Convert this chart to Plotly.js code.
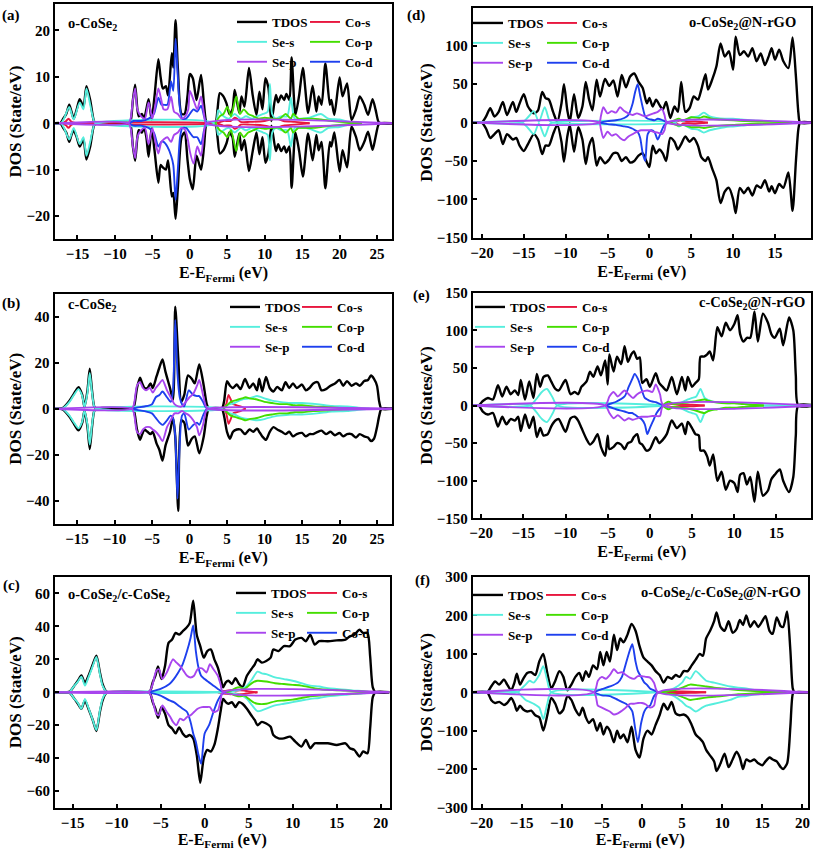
<!DOCTYPE html>
<html><head><meta charset="utf-8">
<script src="https://cdn.plot.ly/plotly-3.0.1.min.js"></script>
<style>html,body{margin:0;padding:0;background:#fff}</style>
</head><body><div id="chart" style="width:813px;height:850px"></div>
<script>
// ---------------- Panel (a) o-CoSe2 ----------------
const aE = [-18, -17.3, -16.9, -16.5, -16.1, -15.8, -15.5, -15.1, -14.7, -14.2,
  -13.8, -13.3, -12.8, -12.5, -8.2, -7.9, -7.6, -7.3, -7.0, -6.8,
  -6.4, -6.1, -5.8, -5.5, -5.1, -4.7, -4.2, -3.9, -3.6, -3.2,
  -2.9, -2.4, -2.2, -1.9, -1.6, -1.1, -0.7, -0.3, 0.0, 0.4,
  0.9, 1.5, 1.9, 2.2, 2.5, 3.4, 3.7, 4.0, 4.4, 4.9,
  5.3, 5.7, 6.0, 6.6, 6.9, 7.3, 7.9, 8.4, 8.9, 9.3,
  9.7, 10.1, 10.5, 10.9, 11.5, 11.8, 12.2, 12.6, 12.9, 13.3,
  13.6, 14.1, 14.6, 15.1, 15.8, 16.4, 16.9, 17.2, 17.6, 18.1,
  18.7, 18.9, 19.3, 20.0, 20.4, 21.0, 21.6, 22.2, 22.7, 23.3,
  23.8, 24.4, 24.8, 25.2, 25.5, 27];
const aTup = [0, 0, 1, 2, 4, 2.5, 1, 3, 5.2, 3.6,
  8, 5, 0.5, 0, 0, 0.5, 5, 8.3, 3, 1.5,
  2, 1, 3, 5.2, 0.8, 6, 13.8, 10, 7.5, 8,
  6, 15.1, 12, 22.2, 12, 2, 2, 6, 10.6, 9.7,
  5, 10.4, 4, 0.3, 0, 0, 3, 6.5, 6, 4.3,
  2, 3, 7.2, 2.2, 5.8, 3.6, 11.9, 6, 1.8, 6.8,
  3, 9.7, 7.6, 0.5, 6.1, 4.5, 6, 5, 6.3, 5,
  14.2, 1.8, 6, 11.9, 2.2, 8.1, 2.5, 5.8, 4, 12.9,
  4, 5, 1.8, 9.9, 5.8, 8.6, 0.7, 3, 5.8, 4,
  1.8, 5.2, 3, 0.3, 0, 0];
const aTdn = [0, 0, -1, -2, -4, -2.5, -1.5, -3, -5, -3.5,
  -7.8, -5, -0.5, 0, 0, -0.5, -5, -8.1, -3, -1.5,
  -2, -1, -3, -7.2, -1, -6, -12.8, -9, -9.5, -10,
  -8, -15.8, -15, -20.6, -14, -3, -2, -8, -12, -14.2,
  -7, -10, -5, -0.3, 0, 0, -3, -6.5, -6, -4.3,
  -2, -3, -7.2, -2.2, -5.8, -3.6, -10.3, -6, -2, -6.7,
  -3, -8.5, -6.5, -0.5, -6, -4.5, -6, -5, -6.3, -5,
  -13.9, -2, -6, -11.5, -2.2, -8, -2.5, -5.8, -4, -14,
  -4, -5, -2, -10.4, -5.8, -9.5, -0.7, -3, -5.8, -4,
  -1.8, -5.7, -3, -0.3, 0, 0];
const aSsE = [-18, -17.2, -16.8, -16.1, -15.5, -14.7, -14.2, -13.8, -13.3, -12.8, -12.5, 3.4, 3.8, 4.5, 5.2, 6.0, 6.8, 7.5, 8.3, 9.0, 9.8, 10.4, 10.7, 11.0, 11.5, 12.2, 13.0, 13.5, 14.0, 15.0, 16.0, 17.5, 18.5, 20.0, 21.0, 22.0];
const aSsUp = [0, 0, 1, 3.5, 0.8, 4.5, 3, 7.5, 4, 0.5, 0, 0, 2.8, 1.5, 1, 2, 1, 1.5, 1, 1.5, 2, 2.5, 8.5, 2, 1, 1.5, 1.5, 5.5, 1, 1, 1.2, 2, 1, 0.8, 0.4, 0];
const aSsDn = [0, 0, -1, -3.5, -1, -4.5, -3, -7, -4, -0.5, 0, 0, -2.5, -1.5, -1, -2, -1, -1.5, -1, -1.5, -2, -2.5, -8, -2, -1, -1.5, -1.5, -5, -1, -1, -1.2, -2, -1, -0.8, -0.4, 0];
const aSpE = [-18, -8.2, -7.9, -7.6, -7.3, -7.0, -6.5, -6.0, -5.5, -5.0, -4.6, -4.2, -3.8, -3.5, -3.0, -2.5, -2.1, -1.6, -1.1, -0.6, -0.2, 0.0, 0.5, 1.0, 1.5, 1.9, 2.2, 27];
const aSpUp = [0, 0, 1, 5, 7.5, 3, 1.5, 1, 4.5, 1, 4, 7.5, 5, 3, 3, 5.7, 2.5, 2, 1, 1.5, 3, 7, 5, 3, 5.8, 2, 0, 0];
const aSpDn = [0, 0, -1, -5, -7.5, -3, -1.5, -1, -4.5, -1, -4, -6.5, -4, -3.5, -3, -4, -2.5, -2, -1, -1.5, -4, -6, -8.7, -5, -7, -2, 0, 0];
const aCdE = [-8.2, -7.5, -6.5, -5.5, -4.8, -4.2, -3.8, -3.5, -3.0, -2.5, -2.2, -1.9, -1.6, -1.3, -1.0, -0.5, 0.0, 0.5, 1.0, 1.5, 1.9, 2.2];
const aCdUp = [0, 0.5, 0.5, 1, 2, 5.5, 4, 4, 4, 9, 7, 18.2, 10, 3, 1, 1, 2, 3, 2.5, 3.8, 1.5, 0];
const aCdDn = [0, -0.5, -0.5, -1, -2, -5, -4, -4, -5, -7, -9, -16.5, -10, -3, -1, -1, -2, -3, -3, -4.5, -1.5, 0];
const aCpE = [3.4, 4.0, 4.5, 5.0, 5.5, 6.2, 6.7, 7.2, 7.8, 8.5, 9.2, 10, 11, 12, 12.8, 13.5, 13.8, 14.5, 15.5, 16.5, 17.5, 19, 21, 23];
const aCpUp = [0, 1.5, 2, 3.5, 1.5, 5.8, 2, 3, 2, 1.5, 1, 1.2, 1, 1, 2, 1, 2, 1, 1, 1, 0.8, 0.5, 0.2, 0];
const aCpDn = [0, -1.5, -2, -3, -1.5, -6, -2, -3, -2, -1.5, -1, -1.2, -1, -1, -2, -1, -2, -1, -1, -1, -0.8, -0.5, -0.2, 0];
const aCsE = [-17, -16.5, -16.2, -15.8, -15, 3.5, 4.5, 5.5, 6.0, 6.3, 6.8, 8, 10, 11.5, 12.5, 14, 16];
const aCsUp = [0, 0.5, 1, 0.3, 0, 0, 0.5, 0.5, 1.2, 1.0, 0.3, 0.3, 0.5, 1, 0.5, 0.3, 0];
const aCsDn = [0, -0.5, -1, -0.3, 0, 0, -0.5, -0.5, -1.2, -1, -0.3, -0.3, -0.5, -1, -0.5, -0.3, 0];

// ---------------- Panel (b) c-CoSe2 ----------------
const bE = [-18, -17.2, -16.9, -16.5, -16.0, -15.5, -14.8, -14.3, -14.0, -13.6,
  -13.3, -13.0, -12.7, -12.4, -7.7, -7.4, -7.0, -6.6, -6.3, -6.0,
  -5.6, -5.2, -4.9, -4.4, -4.0, -3.6, -3.2, -2.6, -2.2, -1.9,
  -1.5, -1.1, -0.7, -0.2, 0.3, 0.7, 1.3, 1.9, 2.3, 2.6,
  4.3, 4.6, 5.0, 5.4, 5.8, 6.3, 6.8, 7.4, 8.0, 8.5,
  9.0, 9.3, 9.7, 10.2, 10.7, 11.2, 11.7, 12.3, 12.8, 13.3,
  13.8, 14.3, 15.0, 15.5, 16.0, 16.5, 17.1, 17.6, 18.2, 18.8,
  19.4, 20.0, 20.5, 21.0, 21.6, 22.2, 22.7, 23.3, 23.8, 24.2,
  24.6, 25.0, 25.3, 25.6, 27];
const bTup = [0, 0, 0.3, 1.5, 3.5, 6, 9.4, 6, 0.7, 8,
  17.4, 8, 1, 0, 0, 1, 9, 13.5, 11, 9,
  9, 11, 9, 14, 18, 21.4, 16, 9, 4, 44.3,
  22, 3, 6, 14.5, 13, 11, 19.2, 10, 2, 0,
  0, 3, 12, 10, 9, 10.5, 8.5, 12.9, 9, 11,
  8, 13, 7.5, 13.8, 9, 7.5, 9.5, 8, 11.5, 9,
  11, 9, 10.5, 8, 9, 11, 11.5, 8, 8.5, 10,
  11, 12.5, 10, 12, 10, 11, 10, 12, 12.5, 14.4,
  13, 10, 3, 0, 0];
const bTdn = [0, 0, -0.3, -1.5, -3.5, -6, -9.4, -6, -0.7, -8,
  -17.5, -8, -1, 0, 0, -1, -9, -13.5, -11, -9,
  -10, -11, -10, -15, -18, -22.5, -16, -10, -4, -12,
  -44.3, -5, -6, -16, -13, -12, -19.3, -12, -3, 0,
  0, -3, -10, -13, -10, -9, -9, -11, -9, -10,
  -8.5, -10, -12, -13.5, -10, -8, -9, -10, -11, -10,
  -12, -11, -10.5, -12, -11, -11, -10, -9.5, -11, -10,
  -11.5, -10.5, -12, -11, -11, -12.5, -11, -12, -12.5, -14,
  -13, -8, -3, 0, 0];
const bSsE = [-18, -16.9, -16.5, -16.0, -15.5, -14.8, -14.3, -14.0, -13.6, -13.3, -13.0, -12.7, -12.4, 4.5, 5.0, 6.0, 7.0, 8.0, 9.0, 10.0, 11.0, 12.0, 13.5, 15.0, 17.0, 19.0, 21.0, 22.5, 24.0];
const bSsUp = [0, 0.2, 1.2, 3, 5.5, 8.5, 5.5, 0.7, 7, 15.5, 7, 1, 0, 0, 1.5, 2.5, 4, 4.5, 5.5, 4.5, 3.5, 3, 2.5, 2.5, 2, 1.2, 1, 0.5, 0];
const bSsDn = [0, -0.2, -1.2, -3, -5.5, -8.5, -5.5, -0.7, -7, -15.5, -7, -1, 0, 0, -1.5, -2.5, -4, -4.5, -5, -4.5, -3.5, -3, -2.5, -2.5, -2, -1.2, -1, -0.5, 0];
const bSpE = [-18, -7.7, -7.4, -7.0, -6.6, -6.2, -5.8, -5.3, -4.9, -4.5, -4.0, -3.6, -3.0, -2.5, -2.0, -1.5, -1.0, -0.5, 0.0, 0.5, 1.0, 1.3, 1.8, 2.2, 2.5, 27];
const bSpUp = [0, 0, 2, 10, 11.5, 9, 8, 9, 7, 9, 11, 12.5, 8, 5, 2, 1, 1, 3, 5, 6.5, 10, 12.5, 6, 1, 0, 0];
const bSpDn = [0, 0, -2, -10, -11, -9, -8, -8, -9, -10, -12, -14, -8, -5, -2, -2, -1, -2, -3, -5, -8, -11.5, -7, -1, 0, 0];
const bCdE = [-7.7, -7.0, -6.0, -5.0, -4.5, -4.0, -3.6, -3.0, -2.5, -2.2, -1.9, -1.6, -1.3, -1.0, -0.7, -0.1, 0.5, 1.0, 1.3, 1.8, 2.2, 2.5];
const bCdUp = [0, 0.5, 1, 2, 5, 6, 7.5, 5, 3, 8, 38.5, 15, 5, 2, 1, 8, 6, 5.5, 5.5, 3, 0.5, 0];
const bCdDn = [0, -0.5, -1, -2, -4, -6, -7, -5, -3, -4, -12, -39, -15, -3, -2, -9, -7, -6, -7, -3, -0.5, 0];
const bCpE = [4.5, 5.0, 5.5, 6.0, 6.5, 7.0, 7.5, 8.0, 9.0, 10.0, 11.0, 12.0, 13.0, 14.0, 15.0, 16.5, 18.0, 20.0, 22.0];
const bCpUp = [0, 1.5, 3, 3.5, 4, 4.5, 5, 4.5, 4, 3, 2.5, 2, 2, 1.5, 1.5, 1, 0.8, 0.4, 0];
const bCpDn = [0, -1.5, -3, -3.5, -4, -4.5, -5, -4.5, -4, -3, -2.5, -2, -2, -1.5, -1.5, -1, -0.8, -0.4, 0];
const bCsE = [4.5, 4.9, 5.2, 5.5, 5.8, 6.3, 6.8, 7.5];
const bCsUp = [0, 2, 6, 4, 2, 1.5, 1, 0];
const bCsDn = [0, -2, -6.5, -4.5, -2, -1.5, -1, 0];

// ---------------- Panel (c) o-CoSe2/c-CoSe2 ----------------
const cE = [-17, -15.6, -15.3, -14.8, -14.4, -14.0, -13.6, -13.2, -12.7, -12.3,
  -11.9, -11.6, -11.2, -11.0, -6.5, -6.2, -5.9, -5.6, -5.3, -4.9,
  -4.5, -4.1, -3.7, -3.3, -2.9, -2.5, -2.1, -1.7, -1.3, -0.9,
  -0.5, -0.1, 0.3, 0.7, 1.1, 1.5, 1.8, 2.1, 2.4, 2.7,
  3.1, 3.5, 3.9, 4.3, 4.8, 5.3, 5.7, 6.0, 6.5, 7.0,
  7.5, 7.8, 8.4, 9.0, 9.7, 10.3, 11.0, 11.5, 12.0, 12.5,
  13.0, 14.0, 15.0, 16.0, 16.5, 17.0, 17.6, 18.0, 18.5, 18.8,
  19.1, 19.4, 21];
const cTup = [0, 0, 0.5, 4, 7, 10.2, 5.6, 10, 17, 22.2,
  12, 5, 0.5, 0, 0, 0.5, 6, 10, 15.6, 8,
  16, 30, 32, 36, 35, 37, 39, 42, 55.6, 35,
  28, 21, 25, 26, 20, 15, 9, 3, 6, 7,
  5, 8.5, 5, 3, 10, 14, 17, 20, 18, 19,
  21, 26, 25, 28, 28, 32, 33, 31, 35, 29,
  31, 31, 31.5, 32, 34, 35, 38, 36, 36, 22,
  3, 0, 0];
const cTdn = [0, 0, -0.5, -4, -7, -10, -5, -10, -17, -23.5,
  -12, -5, -0.5, 0, 0, -0.5, -6, -10, -15.5, -9,
  -13, -20, -22, -25, -21.4, -25, -27, -26, -28, -38,
  -55, -40, -35, -36, -32, -22, -12, -4, -6, -7,
  -6, -9, -6, -7, -10, -14, -17, -20, -18, -19,
  -21, -26, -28, -28, -27, -30, -33, -29, -34, -31,
  -31, -31, -32, -31, -34, -35, -39, -36, -37, -22,
  -3, 0, 0];
const cSsE = [-17, -15.6, -15.3, -14.8, -14.4, -14.0, -13.6, -13.2, -12.7, -12.3, -11.9, -11.6, -11.2, -11.0, 2.0, 3.0, 4.0, 4.8, 5.4, 6.0, 6.5, 7.0, 8.0, 9.0, 10.0, 11.0, 12.0, 13.0, 14.0, 15.0, 16.0, 17.0, 18.0, 19.0];
const cSsUp = [0, 0, 0.5, 4, 6.5, 9.5, 4, 9, 16, 21.5, 11, 4, 0.5, 0, 0, 0.5, 1.5, 4, 8, 12.5, 11.5, 11, 9, 8, 7, 5.5, 4, 3.5, 2.5, 2, 1.5, 1, 0.7, 0];
const cSsDn = [0, 0, -0.5, -4, -6.5, -10, -4, -9.5, -17, -23, -11, -4, -0.5, 0, 0, -0.5, -1.5, -4, -8, -11.5, -11, -10, -8, -7, -6, -5, -4, -3.5, -2.5, -2, -1.5, -1, -0.7, 0];
const cSpE = [-17, -6.5, -6.2, -5.9, -5.5, -5.2, -4.8, -4.3, -3.9, -3.6, -3.2, -2.8, -2.4, -2.0, -1.6, -1.2, -0.8, -0.3, 0.2, 0.6, 1.0, 1.5, 1.8, 2.1, 21];
const cSpUp = [0, 0, 1, 5, 13, 14, 8, 12, 17, 20, 18, 16, 13, 10, 9, 10, 14, 14.5, 12, 17, 14, 10, 5, 0, 0];
const cSpDn = [0, 0, -1, -5, -13, -14, -8, -12, -15, -18, -20, -16, -17, -15, -14, -12, -10, -9, -9, -9, -12, -11, -5, 0, 0];
const cCdE = [-6.5, -6.0, -5.0, -4.0, -3.5, -3.0, -2.5, -2.0, -1.6, -1.3, -1.0, -0.7, -0.4, 0.0, 0.5, 1.0, 1.5, 2.0, 2.4];
const cCdUp = [0, 0.5, 2, 5, 8, 12, 17, 25, 33, 40.5, 25, 15, 10, 8, 6, 4, 2, 0.5, 0];
const cCdDn = [0, -0.5, -2, -5, -6, -8, -10, -12, -18, -25, -30, -38, -43.5, -25, -20, -12, -5, -1, 0];
const cCpE = [2.0, 3.0, 3.5, 4.0, 4.5, 5.0, 5.5, 6.0, 7.0, 8.0, 9.0, 10.0, 11.0, 12.0, 13.0, 14.0, 16.0, 18.0, 19.2];
const cCpUp = [0, 1, 2.5, 3, 2, 4, 6, 7, 6.5, 5.5, 5, 4.5, 4, 3, 2, 1.5, 1, 0.5, 0];
const cCpDn = [0, -1, -2, -2.5, -2, -4, -6, -7, -7, -5.5, -5, -4.5, -3.5, -2.5, -2, -1.5, -1, -0.5, 0];
const cCsE = [1.5, 2.5, 3.0, 3.5, 4.0, 4.5, 5.0, 6.0];
const cCsUp = [0, 1, 1.2, 0.8, 1.2, 1, 0.5, 0];
const cCsDn = [0, -1, -1.2, -0.8, -1.2, -1, -0.5, 0];

// ---------------- Panel (d) o-CoSe2@N-rGO ----------------
const dE = [-21.1, -20.3, -20.0, -19.5, -19.0, -18.5, -18.0, -17.5, -17.0, -16.3,
  -15.9, -15.5, -15.0, -14.5, -13.8, -13.3, -12.8, -12.4, -12.0, -11.5,
  -11.0, -10.5, -10.2, -9.8, -9.5, -9.0, -8.5, -8.0, -7.6, -7.2,
  -6.8, -6.3, -5.9, -5.3, -4.8, -4.3, -3.8, -3.3, -2.8, -2.3,
  -1.8, -1.3, -0.8, -0.3, 0.0, 0.4, 0.8, 1.2, 1.6, 2.0,
  2.5, 3.0, 3.4, 3.8, 4.3, 4.8, 5.3, 5.8, 6.2, 6.7,
  7.0, 7.5, 8.0, 8.5, 9.0, 9.5, 10.0, 10.3, 10.8, 11.3,
  11.8, 12.3, 12.8, 13.3, 13.8, 14.3, 14.6, 15.0, 15.5, 16.0,
  16.6, 17.1, 17.5, 17.8, 18.0, 19.5];
const dTup = [0, 0, 0, 8, 18.7, 8, 14, 27, 10, 27,
  14, 25, 37, 21, 12, 16, 40, 32, 30, 14,
  1, 25, 50, 16, 1, 37, 6, 21, 53, 30,
  16, 56, 34, 57, 48, 55, 34, 62, 46, 60,
  64, 53, 45, 25, 32, 21, 30, 23, 17, 27,
  6, 21, 14, 53, 14, 19, 34, 30, 43, 63,
  43, 56, 73, 103, 86, 93, 69, 112, 88, 93,
  86, 97, 80, 90, 75, 88, 97, 82, 95, 80,
  71, 111, 60, 12, 0, 0];
const dTdn = [0, 0, 0, -8, -20, -15, -10, -28, -15, -22,
  -20, -30, -37, -28, -15, -22, -41, -30, -30, -15,
  -3, -25, -51, -18, -3, -38, -6, -22, -54, -30,
  -20, -56, -45, -53, -48, -40, -40, -50, -45, -52,
  -50, -43, -40, -52, -58, -30, -40, -35, -40, -50,
  -20, -25, -35, -28, -18, -25, -20, -30, -45, -50,
  -45, -60, -75, -105, -90, -85, -100, -118, -85, -92,
  -85, -95, -82, -85, -75, -90, -83, -92, -80, -85,
  -65, -115, -50, -8, 0, 0];
const dSsE = [-21.1, -15.2, -14.5, -13.8, -13.2, -12.5, -11.9, -11.5, 3.0, 3.5, 4.0, 5.0, 5.8, 6.5, 7.2, 8.0, 9.0, 10.0, 11.0, 12.0, 13.0, 14.0, 15.0, 16.0, 17.0, 17.8];
const dSsUp = [0, 0, 7, 15, 1, 20, 2, 0, 0, 4, 2, 7, 8, 13, 8, 6, 5, 5, 4, 3, 2.5, 2, 1.5, 1, 0.5, 0];
const dSsDn = [0, 0, -7, -15, -1, -18, -2, 0, 0, -5, -3, -8, -9, -13, -10, -8, -6, -5, -4, -3, -2.5, -2, -1.5, -1, -0.5, 0];
const dSpE = [-21.1, -6.0, -5.8, -5.5, -5.0, -4.5, -4.0, -3.5, -3.0, -2.5, -2.0, -1.5, -1.0, -0.5, 0.0, 0.5, 1.0, 1.5, 1.8, 2.1, 19.5];
const dSpUp = [0, 0, 8, 20, 12, 15, 13, 20, 15, 12, 10, 12, 10, 8, 10, 12, 14, 18, 10, 0, 0];
const dSpDn = [0, 0, -8, -20, -12, -17, -15, -20, -23, -18, -15, -12, -10, -10, -10, -12, -13, -15, -10, 0, 0];
const dCdE = [-6.0, -5.0, -4.0, -3.0, -2.5, -2.0, -1.7, -1.4, -1.1, -0.8, -0.5, -0.2, 0.2, 0.6, 1.0, 1.4, 1.8, 2.2];
const dCdUp = [0, 2, 3, 6, 10, 25, 40, 50, 35, 20, 8, 5, 4, 3, 5, 4, 2, 0];
const dCdDn = [0, -2, -3, -5, -6, -8, -10, -12, -20, -40, -50, -15, -10, -12, -22, -12, -3, 0];
const dCpE = [2.5, 3.5, 4.0, 5.0, 6.0, 6.5, 7.5, 8.5, 10.0, 11.5, 13, 15, 17];
const dCpUp = [0, 5, 3, 7, 6, 8, 5, 4, 3, 2, 1.5, 1, 0];
const dCpDn = [0, -4, -3, -6, -6, -7, -5, -4, -3, -2, -1.5, -1, 0];
const dCsE = [3.0, 3.7, 4.0, 4.5, 5.5, 6.5, 7.0];
const dCsUp = [0, 3, 1.5, 1, 1.5, 0.5, 0];
const dCsDn = [0, -3, -1.5, -1, -1.5, -0.5, 0];

// ---------------- Panel (e) c-CoSe2@N-rGO ----------------
const eE = [-21.1, -20.3, -19.8, -19.2, -18.6, -18.0, -17.5, -17.0, -16.5, -16.0,
  -15.6, -15.3, -14.8, -14.3, -13.8, -13.4, -13.0, -12.6, -12.1, -11.7,
  -11.2, -10.8, -10.0, -9.4, -8.9, -8.5, -8.1, -7.5, -7.1, -6.7,
  -6.2, -5.8, -5.3, -5.0, -4.8, -4.3, -3.9, -3.4, -3.0, -2.6,
  -2.2, -1.9, -1.5, -1.2, -0.9, -0.4, 0.0, 0.7, 1.1, 1.5,
  2.0, 2.6, 3.2, 3.8, 4.2, 4.5, 5.0, 5.4, 5.8, 6.0,
  6.4, 6.8, 7.1, 7.5, 8.0, 8.5, 9.0, 9.5, 10.0, 10.4,
  10.7, 11.1, 11.5, 11.9, 12.4, 12.8, 13.4, 14.0, 14.4, 14.8,
  15.4, 15.8, 16.5, 17.0, 17.3, 17.6, 19.5];
const eTup = [0, 0, 6, 10, 8, 27, 12, 25, 15, 20,
  14, 34, 8, 32, 10, 42, 25, 38, 40, 32,
  22, 20, 34, 15, 18, 15, 25, 32, 45, 38,
  52, 40, 60, 28, 68, 45, 65, 55, 79, 58,
  68, 72, 62, 64, 30, 35, 25, 43, 30, 25,
  20, 38, 15, 38, 20, 38, 25, 30, 35, 65,
  65, 68, 72, 60, 104, 92, 110, 100, 108, 120,
  95, 85, 90, 90, 125, 85, 122, 110, 95, 90,
  102, 80, 117, 100, 40, 0, 0];
const eTdn = [0, 0, -8, -12, -10, -28, -15, -25, -18, -20,
  -15, -34, -12, -30, -15, -42, -30, -40, -38, -28,
  -20, -18, -35, -17, -15, -20, -30, -45, -52, -48,
  -38, -55, -67, -40, -58, -55, -50, -52, -58, -50,
  -48, -42, -38, -50, -52, -60, -58, -42, -50, -46,
  -38, -20, -30, -24, -38, -22, -30, -38, -40, -60,
  -60, -68, -80, -65, -100, -88, -112, -100, -103, -115,
  -92, -90, -105, -95, -128, -88, -120, -113, -98, -92,
  -85, -100, -115, -95, -40, 0, 0];
const eSsE = [-21.1, -14.2, -13.5, -12.8, -12.2, -11.5, -11.0, 1.5, 2.5, 3.5, 4.5, 5.0, 5.5, 6.0, 6.5, 7.0, 7.5, 8.5, 9.5, 10.0, 10.5, 11.5, 12.5, 14.0, 19.5];
const eSsUp = [0, 0, 8, 18, 22, 10, 0, 0, 3, 3, 8, 10, 12, 22, 10, 7, 5, 4, 3, 4, 3, 2, 1, 0, 0];
const eSsDn = [0, 0, -8, -18, -22, -10, 0, 0, -3, -3, -8, -10, -12, -22, -10, -7, -5, -4, -3, -4, -3, -2, -1, 0, 0];
const eSpE = [-21.1, -5.3, -4.8, -4.3, -3.8, -3.0, -2.5, -2.0, -1.5, -1.0, -0.3, 0.3, 0.7, 1.2, 1.6, 19.5];
const eSpUp = [0, 0, 12, 18, 12, 20, 15, 10, 15, 18, 20, 18, 28, 15, 0, 0];
const eSpDn = [0, 0, -10, -17, -13, -20, -17, -19, -17, -15, -15, -14, -14, -14, 0, 0];
const eCdE = [-5.3, -4.5, -4.0, -3.0, -2.5, -2.1, -1.8, -1.4, -1.0, -0.6, -0.3, 0.0, 0.4, 0.8, 1.2, 1.6];
const eCdUp = [0, 3, 5, 12, 25, 35, 42, 35, 22, 10, 8, 6, 5, 4, 2, 0];
const eCdDn = [0, -3, -5, -8, -10, -10, -12, -15, -18, -25, -38, -30, -20, -10, -4, 0];
const eCpE = [1.5, 2.2, 2.8, 3.5, 4.5, 5.5, 6.5, 7.0, 8.0, 9.0, 10.0, 11.0, 12.0, 13.5];
const eCpUp = [0, 5, 2, 3, 4, 6, 8, 6, 4, 3, 3, 2, 1, 0];
const eCpDn = [0, -5, -2, -3, -4, -7, -10, -7, -5, -3, -3, -2, -1, 0];
const eCsE = [1.5, 2.5, 3.5, 5.0, 6.5];
const eCsUp = [0, 2, 1, 1, 0];
const eCsDn = [0, -2, -1, -1, 0];

// ---------------- Panel (f) o-CoSe2/c-CoSe2@N-rGO ----------------
const fE = [-21.1, -19.3, -18.8, -18.3, -17.8, -17.2, -16.8, -16.3, -15.9, -15.6,
  -15.2, -14.8, -14.3, -13.8, -13.3, -12.8, -12.3, -11.8, -11.3, -10.8,
  -10.3, -9.8, -9.3, -8.8, -8.3, -7.8, -7.4, -7.0, -6.6, -6.1,
  -5.6, -5.2, -4.8, -4.4, -4.0, -3.5, -3.1, -2.7, -2.3, -1.8,
  -1.3, -0.8, -0.3, 0.2, 0.7, 1.2, 1.7, 2.2, 2.7, 3.2,
  3.7, 4.2, 4.7, 5.2, 5.7, 6.2, 6.7, 7.2, 7.6, 8.0,
  8.5, 9.0, 9.3, 9.8, 10.3, 10.8, 11.3, 11.8, 12.2, 12.6,
  13.0, 13.5, 14.0, 14.5, 15.0, 15.4, 15.9, 16.3, 16.8, 17.3,
  17.6, 18.1, 18.5, 18.8, 19.0, 20.7];
const fTup = [0, 0, 15, 28, 20, 33, 20, 5, 25, 48,
  20, 35, 50, 52, 45, 80, 100, 50, 10, 30,
  55, 40, 5, 20, 40, 50, 30, 55, 40, 70,
  60, 105, 70, 105, 80, 150, 110, 140, 130, 150,
  178, 160, 120, 90, 80, 70, 55, 45, 25, 40,
  35, 45, 40, 55, 55, 70, 85, 100, 95, 140,
  160, 185, 208, 170, 160, 185, 155, 165, 188, 175,
  200, 170, 185, 170, 185, 198, 160, 152, 195, 172,
  170, 210, 110, 10, 0, 0];
const fTdn = [0, 0, -20, -28, -25, -33, -28, -15, -30, -48,
  -35, -45, -50, -48, -60, -65, -100, -60, -15, -30,
  -55, -45, -10, -20, -45, -60, -40, -65, -80, -70,
  -100, -80, -110, -90, -100, -130, -100, -120, -110, -130,
  -90, -150, -170, -120, -100, -110, -85, -60, -30, -45,
  -25, -55, -60, -58, -65, -85, -110, -120, -130, -150,
  -165, -180, -205, -185, -160, -195, -175, -155, -170, -200,
  -175, -180, -175, -185, -190, -180, -170, -175, -180, -195,
  -200, -185, -90, -5, 0, 0];
const fSsE = [-21.1, -15.5, -15.0, -14.5, -14.0, -13.5, -12.8, -12.3, -11.8, -11.3, 2.0, 3.0, 4.0, 5.0, 5.5, 6.0, 6.7, 7.5, 8.0, 9.0, 10.0, 11.0, 12.0, 13.0, 14.0, 16.0, 18.0, 19.0];
const fSsUp = [0, 0, 10, 20, 30, 25, 45, 68, 30, 0, 0, 3, 10, 25, 40, 35, 55, 40, 30, 25, 20, 15, 12, 10, 6, 3, 1, 0];
const fSsDn = [0, 0, -10, -20, -25, -30, -40, -70, -30, 0, 0, -3, -10, -25, -35, -40, -50, -40, -35, -30, -25, -20, -12, -10, -6, -3, -1, 0];
const fSpE = [-21.1, -6.0, -5.5, -5.0, -4.5, -4.0, -3.5, -3.0, -2.5, -2.0, -1.5, -1.0, -0.5, 0.0, 0.5, 1.0, 1.5, 2.0, 20.7];
const fSpUp = [0, 0, 30, 40, 35, 45, 60, 50, 52, 45, 38, 35, 42, 42, 40, 38, 25, 0, 0];
const fSpDn = [0, 0, -35, -40, -45, -50, -58, -55, -48, -40, -30, -30, -28, -28, -32, -40, -35, 0, 0];
const fCdE = [-6.0, -5.0, -4.0, -3.0, -2.5, -2.0, -1.5, -1.2, -0.8, -0.5, -0.1, 0.3, 0.6, 1.0, 1.5, 2.0];
const fCdUp = [0, 8, 15, 25, 40, 75, 110, 125, 80, 55, 40, 25, 20, 10, 5, 0];
const fCdDn = [0, -8, -10, -20, -25, -30, -40, -50, -100, -130, -80, -50, -40, -35, -10, 0];
const fCpE = [2.0, 3.0, 4.0, 5.0, 6.0, 7.0, 8.0, 9.0, 10.0, 12.0, 14.0, 16.0, 18.0];
const fCpUp = [0, 3, 5, 12, 20, 18, 15, 12, 10, 6, 3, 1, 0];
const fCpDn = [0, -3, -5, -12, -20, -17, -14, -12, -10, -5, -3, -1, 0];
const fCsE = [2, 3, 4, 6, 8];
const fCsUp = [0, 2, 2, 1.5, 0];
const fCsDn = [0, -2, -2, -1.5, 0];

// ---------------- labels ----------------
const seriesNames = ['TDOS', 'Co-s', 'Se-s', 'Co-p', 'Co-d', 'Se-p'];
const xTitle = 'E-E<sub>Fermi</sub> (eV)';
const panelLetters = ['(a)', '(b)', '(c)', '(d)', '(e)', '(f)'];
const panelNames = ['o-CoSe<sub>2</sub>', 'c-CoSe<sub>2</sub>', 'o-CoSe<sub>2</sub>/c-CoSe<sub>2</sub>',
  'o-CoSe<sub>2</sub>@N-rGO', 'c-CoSe<sub>2</sub>@N-rGO', 'o-CoSe<sub>2</sub>/c-CoSe<sub>2</sub>@N-rGO'];
const yTitles = ['DOS (State/eV)', 'DOS (State/eV)', 'DOS (State/eV)', 'DOS (States/eV)', 'DOS (States/eV)', 'DOS (States/eV)'];

// ---------------- styling / layout ----------------
const W = 813, H = 850;
const FONT = '"Liberation Serif", "Times New Roman", serif';
const px = v => v / W, py = v => 1 - v / H;
const COL = {'TDOS': '#000000', 'Co-s': '#e8173f', 'Se-s': '#55eedd', 'Co-p': '#44dd00', 'Se-p': '#a845ee', 'Co-d': '#1e40ee'};
const LW = {'TDOS': 2.4, 'Co-s': 1.9, 'Se-s': 1.9, 'Co-p': 1.9, 'Se-p': 1.9, 'Co-d': 1.9};
const LEGA = ['TDOS', 'Se-s', 'Se-p'];

const panels = [
  {dom: [55, 392, 4, 239.3], xr: [-18, 27], yr: [-25, 25.7], dy: 10, lab: [11, 15], tp: [66, 24, 'left'], legA: [232, 7], legB: [305, 7],
   S: {'TDOS': [aE, aTup, aTdn], 'Co-s': [aCsE, aCsUp, aCsDn], 'Se-s': [aSsE, aSsUp, aSsDn], 'Co-p': [aCpE, aCpUp, aCpDn], 'Co-d': [aCdE, aCdUp, aCdDn], 'Se-p': [aSpE, aSpUp, aSpDn]}},
  {dom: [54.5, 392, 293.5, 524], xr: [-18, 27], yr: [-50, 50], dy: 20, lab: [11, 303], tp: [66, 305, 'left'], legA: [225, 292], legB: [297, 292],
   S: {'TDOS': [bE, bTup, bTdn], 'Co-s': [bCsE, bCsUp, bCsDn], 'Se-s': [bSsE, bSsUp, bSsDn], 'Co-p': [bCpE, bCpUp, bCpDn], 'Co-d': [bCdE, bCdUp, bCdDn], 'Se-p': [bSpE, bSpUp, bSpDn]}},
  {dom: [55, 389.5, 577, 807.5], xr: [-17, 21], yr: [-70, 70], dy: 20, lab: [11, 585], tp: [66, 595, 'left'], legA: [231, 578], legB: [302, 578],
   S: {'TDOS': [cE, cTup, cTdn], 'Co-s': [cCsE, cCsUp, cCsDn], 'Se-s': [cSsE, cSsUp, cSsDn], 'Co-p': [cCpE, cCpUp, cCpDn], 'Co-d': [cCdE, cCdUp, cCdDn], 'Se-p': [cSpE, cSpUp, cSpDn]}},
  {dom: [472.7, 811, 7.5, 237.7], xr: [-21.1, 19.3], yr: [-150, 150], dy: 50, lab: [416, 15], tp: [798, 23, 'right'], legA: [468, 8], legB: [542, 8],
   S: {'TDOS': [dE, dTup, dTdn], 'Co-s': [dCsE, dCsUp, dCsDn], 'Se-s': [dSsE, dSsUp, dSsDn], 'Co-p': [dCpE, dCpUp, dCpDn], 'Co-d': [dCdE, dCdUp, dCdDn], 'Se-p': [dSpE, dSpUp, dSpDn]}},
  {dom: [472.7, 811, 292.7, 518.3], xr: [-21.0, 19.1], yr: [-150, 150], dy: 50, lab: [422, 295], tp: [807, 303, 'right'], legA: [470, 292], legB: [542, 292],
   S: {'TDOS': [eE, eTup, eTdn], 'Co-s': [eCsE, eCsUp, eCsDn], 'Se-s': [eSsE, eSsUp, eSsDn], 'Co-p': [eCpE, eCpUp, eCpDn], 'Co-d': [eCdE, eCdUp, eCdDn], 'Se-p': [eSpE, eSpUp, eSpDn]}},
  {dom: [472.7, 808, 577, 807.5], xr: [-21.1, 20.7], yr: [-300, 300], dy: 100, lab: [423, 580], tp: [803, 593, 'right'], legA: [468, 580], legB: [541, 580],
   S: {'TDOS': [fE, fTup, fTdn], 'Co-s': [fCsE, fCsUp, fCsDn], 'Se-s': [fSsE, fSsUp, fSsDn], 'Co-p': [fCpE, fCpUp, fCpDn], 'Co-d': [fCdE, fCdUp, fCdDn], 'Se-p': [fSpE, fSpUp, fSpDn]}}
];

const traces = [];
const layout = {
  width: W, height: H, margin: {l: 0, r: 0, t: 0, b: 0, pad: 0},
  paper_bgcolor: '#ffffff', plot_bgcolor: '#ffffff', showlegend: true,
  font: {family: FONT, color: '#000'}, annotations: []
};
const tickFont = {family: FONT, size: 15, weight: 700, color: '#000'};
const xTitleFont = {family: FONT, size: 16, weight: 700, color: '#000'};
const yTitleFont = {family: FONT, size: 17, weight: 700, color: '#000'};

panels.forEach((p, i) => {
  const s = i === 0 ? '' : String(i + 1);
  const legA = 'legend' + (i === 0 ? '' : String(2 * i + 1));
  const legB = 'legend' + String(2 * i + 2);
  seriesNames.forEach(nm => {
    const [E, up, dn] = p.S[nm];
    const lg = LEGA.includes(nm) ? legA : legB;
    const base = {type: 'scatter', mode: 'lines', xaxis: 'x' + s, yaxis: 'y' + s, hoverinfo: 'skip',
      line: {color: COL[nm], width: LW[nm], shape: 'spline', smoothing: 0.7}, legend: lg};
    traces.push(Object.assign({}, base, {x: E, y: up, name: nm, showlegend: true}));
    traces.push(Object.assign({}, base, {x: E, y: dn, name: nm, showlegend: false}));
  });
  layout['xaxis' + s] = {
    domain: [px(p.dom[0]), px(p.dom[1])], range: p.xr, anchor: 'y' + s,
    tick0: 0, dtick: 5, ticks: 'inside', ticklen: 4, tickwidth: 2, tickcolor: '#000',
    showline: true, linewidth: 2, linecolor: '#000', mirror: true,
    showgrid: false, zeroline: false, tickfont: tickFont, automargin: false, fixedrange: true,
    title: {text: xTitle, font: xTitleFont, standoff: 6}
  };
  layout['yaxis' + s] = {
    domain: [py(p.dom[3]), py(p.dom[2])], range: p.yr, anchor: 'x' + s,
    tick0: 0, dtick: p.dy, ticks: 'inside', ticklen: 4, tickwidth: 2, tickcolor: '#000',
    showline: true, linewidth: 2, linecolor: '#000', mirror: true,
    showgrid: false, zeroline: false, tickfont: tickFont, automargin: false, fixedrange: true,
    title: {text: yTitles[i], font: yTitleFont, standoff: 0}
  };
  const legCommon = {xanchor: 'left', yanchor: 'top', bgcolor: 'rgba(0,0,0,0)', borderwidth: 0,
    font: {family: FONT, size: 13, weight: 700, color: '#000'}, itemwidth: 30, tracegroupgap: 0, orientation: 'v'};
  layout[legA] = Object.assign({}, legCommon, {x: px(p.legA[0]), y: py(p.legA[1])});
  layout[legB] = Object.assign({}, legCommon, {x: px(p.legB[0]), y: py(p.legB[1])});
  layout.annotations.push({xref: 'paper', yref: 'paper', x: px(p.lab[0]), y: py(p.lab[1]), text: panelLetters[i],
    showarrow: false, xanchor: 'center', yanchor: 'middle', font: {family: FONT, size: 15, weight: 700, color: '#000'}});
  layout.annotations.push({xref: 'paper', yref: 'paper', x: px(p.tp[0]), y: py(p.tp[1]), text: panelNames[i],
    showarrow: false, xanchor: p.tp[2], yanchor: 'middle', font: {family: FONT, size: 14.5, weight: 700, color: '#000'}});
});

Plotly.newPlot('chart', traces, layout, {staticPlot: true, displayModeBar: false});
</script>
</body></html>
